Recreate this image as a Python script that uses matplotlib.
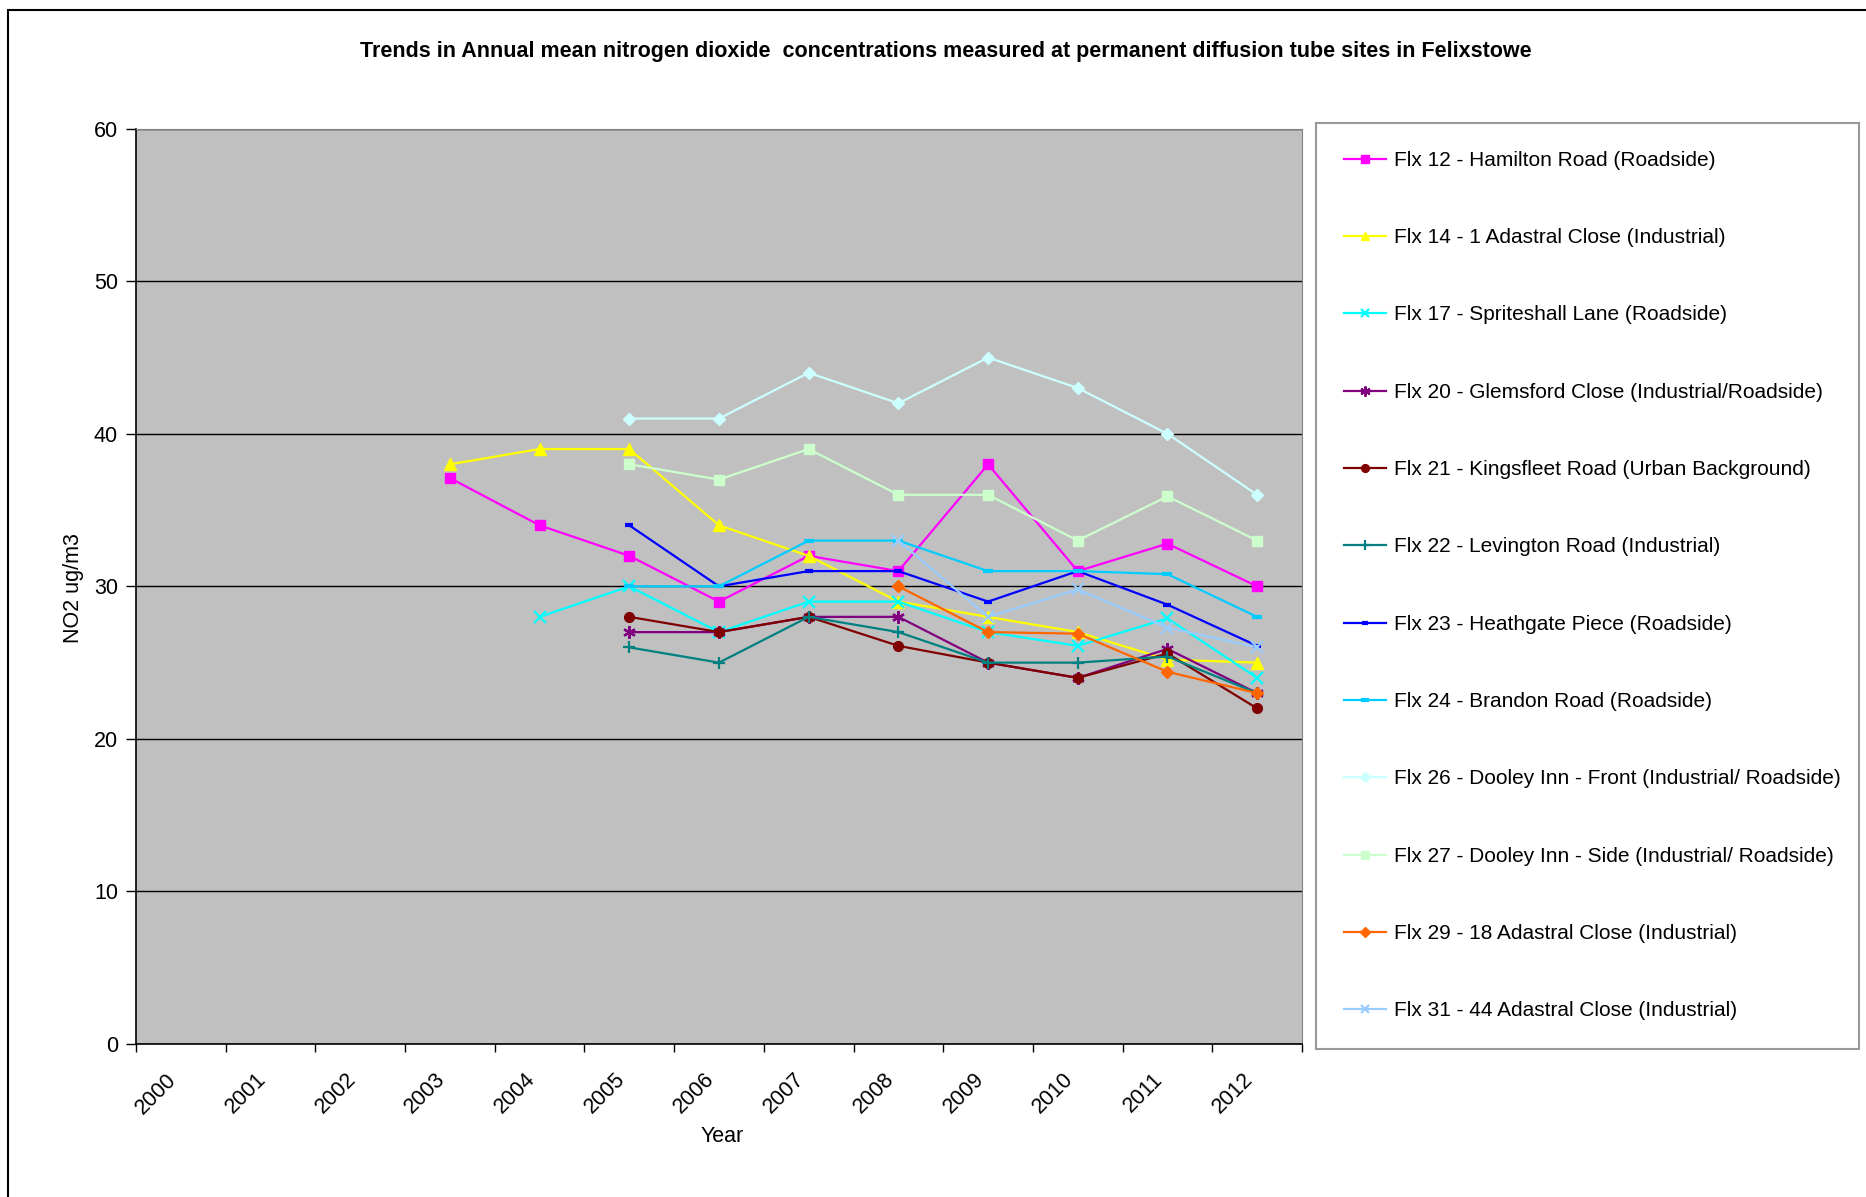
import numpy as np
import matplotlib.pyplot as plt
from matplotlib.patches import Rectangle

plt.rcParams["font.family"] = ["Liberation Sans", "DejaVu Sans"]

W, H, DPI = 1866, 1197, 100
OUTPUT_FILE = "out.png"

TITLE = ("Trends in Annual mean nitrogen dioxide  concentrations measured "
         "at permanent diffusion tube sites in Felixstowe")

YEARS = list(range(2000, 2013))
nan = np.nan

# annual mean NO2 (ug/m3) per site, 2000-2012
FLX12 = [nan, nan, nan, 37.1, 34, 32, 29, 32, 31, 38, 31, 32.8, 30]
FLX14 = [nan, nan, nan, 38, 39, 39, 34, 32, 29, 28, 27, 25.2, 25]
FLX17 = [nan, nan, nan, nan, 28, 30, 27, 29, 29, 27, 26.1, 27.9, 24]
FLX20 = [nan, nan, nan, nan, nan, 27, 27, 28, 28, 25, 24, 25.9, 23]
FLX21 = [nan, nan, nan, nan, nan, 28, 27, 28, 26.1, 25, 24, 25.6, 22]
FLX22 = [nan, nan, nan, nan, nan, 26, 25, 28, 27, 25, 25, 25.4, 23]
FLX23 = [nan, nan, nan, nan, nan, 34, 30, 31, 31, 29, 31, 28.8, 26.1]
FLX24 = [nan, nan, nan, nan, nan, 30, 30, 33, 33, 31, 31, 30.8, 28]
FLX26 = [nan, nan, nan, nan, nan, 41, 41, 44, 42, 45, 43, 40, 36]
FLX27 = [nan, nan, nan, nan, nan, 38, 37, 39, 36, 36, 33, 35.9, 33]
FLX29 = [nan, nan, nan, nan, nan, nan, nan, nan, 30, 27, 26.9, 24.4, 23]
FLX31 = [nan, nan, nan, nan, nan, nan, nan, nan, 33, 28, 29.8, 27.3, 26]

SERIES = [
    ("Flx 12 - Hamilton Road (Roadside)", FLX12, "#FF00FF", "s", 7, 1),
    ("Flx 14 - 1 Adastral Close (Industrial)", FLX14, "#FFFF00", "^", 8, 1),
    ("Flx 17 - Spriteshall Lane (Roadside)", FLX17, "#00FFFF", "x", 8, 1.6),
    ("Flx 20 - Glemsford Close (Industrial/Roadside)", FLX20, "#800080", (6, 2, 0), 9, 1.6),
    ("Flx 21 - Kingsfleet Road (Urban Background)", FLX21, "#800000", "o", 7, 1),
    ("Flx 22 - Levington Road (Industrial)", FLX22, "#008080", "+", 9, 1.6),
    ("Flx 23 - Heathgate Piece (Roadside)", FLX23, "#0000FF", "_", 6, 3),
    ("Flx 24 - Brandon Road (Roadside)", FLX24, "#00CCFF", "_", 7, 3),
    ("Flx 26 - Dooley Inn - Front (Industrial/ Roadside)", FLX26, "#CCFFFF", "D", 6.5, 1),
    ("Flx 27 - Dooley Inn - Side (Industrial/ Roadside)", FLX27, "#CCFFCC", "s", 7, 1),
    ("Flx 29 - 18 Adastral Close (Industrial)", FLX29, "#FF6600", "D", 6.5, 1),
    ("Flx 31 - 44 Adastral Close (Industrial)", FLX31, "#99CCFF", "x", 8, 1.6),
]


def draw():
    fig = plt.figure(figsize=(W / DPI, H / DPI), dpi=DPI)
    ax = fig.add_axes([136 / W, 1 - 1044 / H, (1302 - 136) / W, (1044 - 128.7) / H])
    ax.set_facecolor("#C0C0C0")

    for label, values, color, marker, size, mew in SERIES:
        ax.plot(YEARS, values, color=color, lw=1.6, marker=marker, ms=size,
                mew=mew, mec=color, mfc=color, label=label)

    ax.set_xlim(1999.5, 2012.5)
    ax.set_ylim(0, 60)
    ax.set_yticks(range(0, 61, 10))
    ax.yaxis.grid(True, color="black", lw=1)
    ax.set_axisbelow(True)

    # year labels sit under the category centres, ticks on the boundaries
    ax.set_xticks(YEARS)
    ax.set_xticklabels([str(y) for y in YEARS], rotation=45, ha="right", va="top")
    ax.set_xticks(np.arange(1999.5, 2013, 1), minor=True)
    ax.tick_params(axis="x", which="major", length=0, pad=18, labelsize=15.5)
    ax.tick_params(axis="x", which="minor", length=6, width=1, color="black")
    ax.tick_params(axis="y", length=7, width=1, pad=6, labelsize=15.5)

    for side in ("top", "right"):
        ax.spines[side].set_color("#808080")
    for side in ("left", "bottom"):
        ax.spines[side].set_color("black")
        ax.spines[side].set_linewidth(1.2)

    fig.text(722 / W, 1 - 1136 / H, "Year", fontsize=15.5, ha="center", va="center")
    fig.text(74 / W, 1 - 588 / H, "NO2 ug/m3", fontsize=15.5, ha="center",
             va="center", rotation=90)
    fig.text(946 / W, 1 - 51 / H, TITLE, fontsize=15.5, fontweight="bold",
             ha="center", va="center")

    leg = fig.legend(loc="upper left",
                     bbox_to_anchor=(1316 / W, 1 - 1047 / H, (1859 - 1316) / W, (1047 - 122.7) / H),
                     bbox_transform=fig.transFigure, mode="expand",
                     fontsize=15, labelspacing=2.8, borderpad=1.35,
                     handlelength=2.0, handletextpad=0.4, fancybox=False,
                     markerscale=0.8, borderaxespad=0)
    leg.get_frame().set_edgecolor("#808080")
    leg.get_frame().set_linewidth(1.5)

    # outer chart frame
    fig.add_artist(Rectangle((8 / W, -0.01), 1.2, 1 - 10 / H + 0.01, fill=False,
                             edgecolor="black", lw=1.5, transform=fig.transFigure))

    fig.savefig(OUTPUT_FILE, dpi=DPI)
    plt.close(fig)


if __name__ == "__main__":
    draw()
